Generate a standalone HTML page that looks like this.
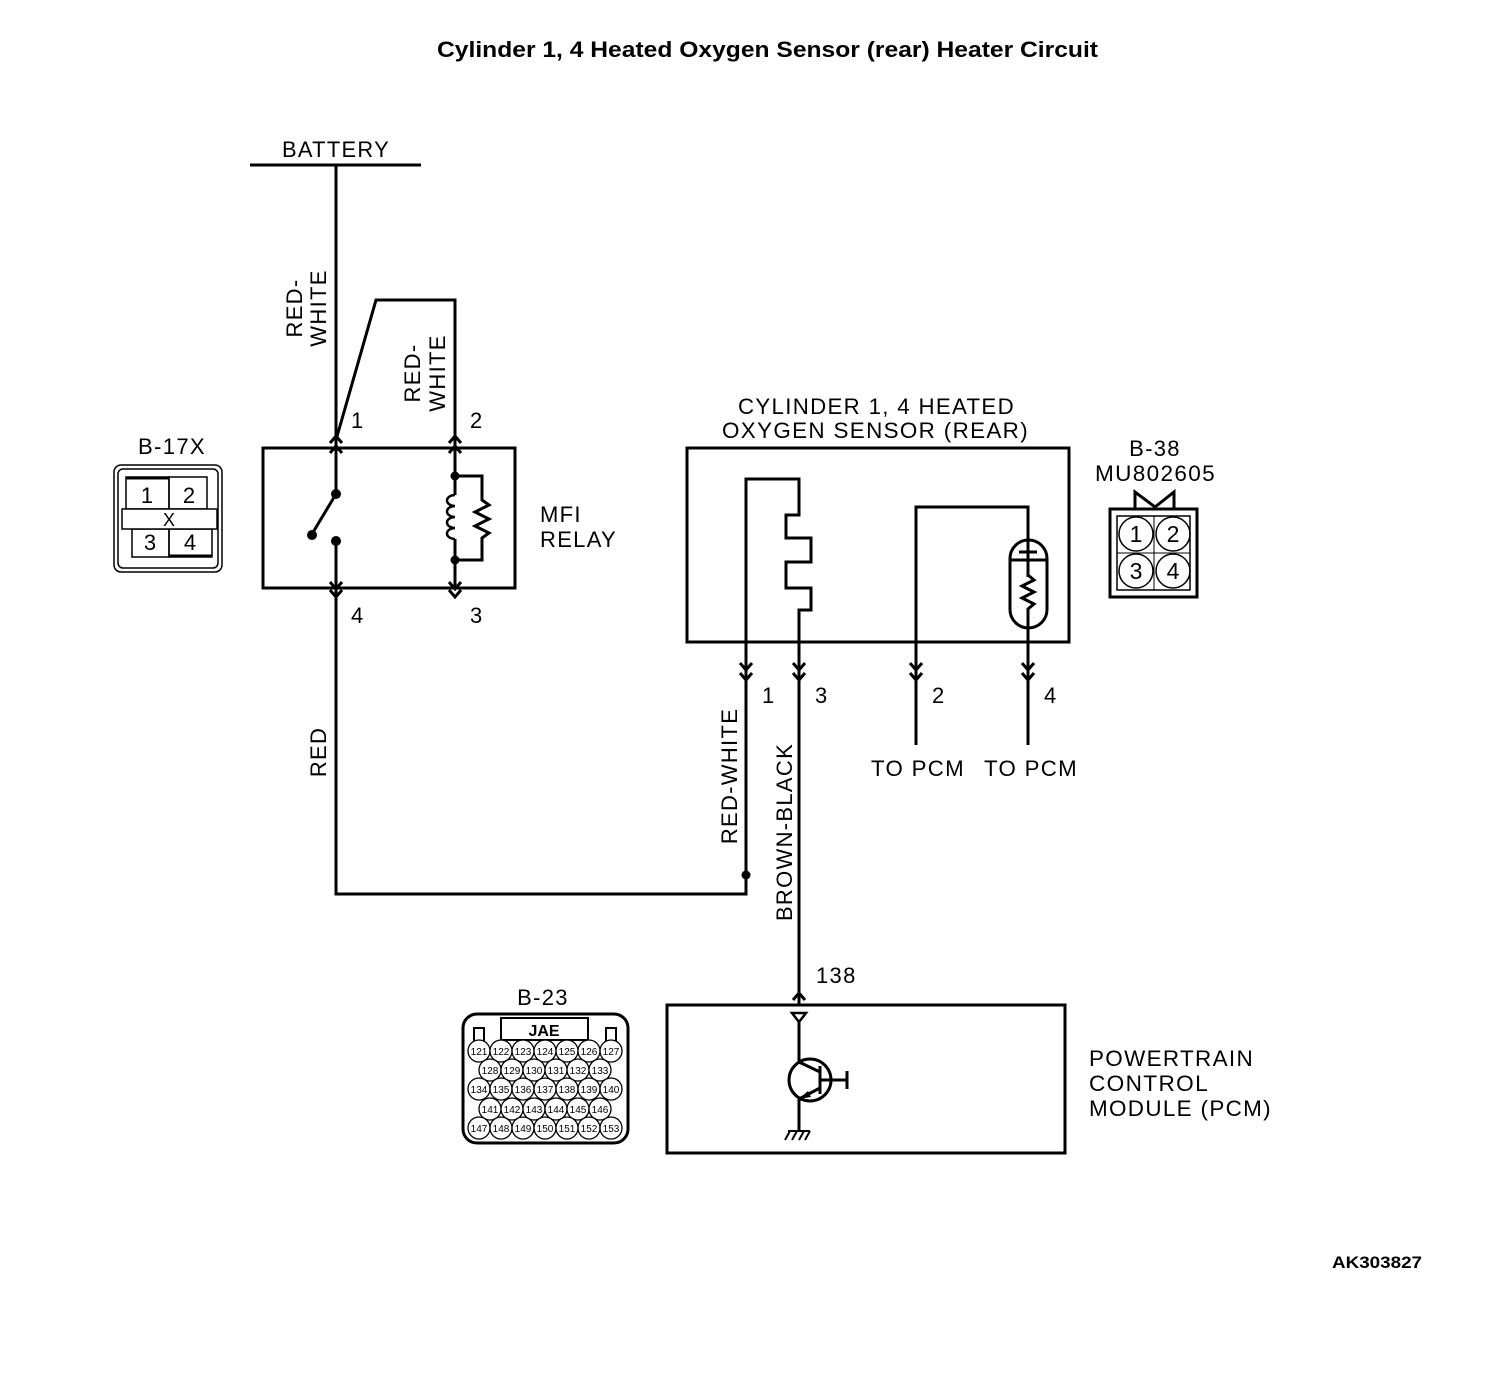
<!DOCTYPE html>
<html><head><meta charset="utf-8"><style>
html,body{margin:0;padding:0;background:#fff;}
svg{display:block;}
text{font-family:"Liberation Sans",Arial,sans-serif;fill:#000;}
</style></head><body>
<svg width="1504" height="1382" viewBox="0 0 1504 1382" xmlns="http://www.w3.org/2000/svg">
<g fill="none" stroke="#000" stroke-width="3">
<line x1="250" y1="165" x2="421" y2="165"/>
<line x1="336" y1="165" x2="336" y2="588"/>
<polyline points="336,440 376,300 455,300 455,588"/>
<rect x="263" y="448" width="252" height="140"/>
<polyline points="330,443 336,436 342,443"/>
<polyline points="330,453 336,446 342,453"/>
<polyline points="449,443 455,436 461,443"/>
<polyline points="449,453 455,446 461,453"/>
<polyline points="330,590 336,597 342,590"/>
<polyline points="330,582 336,589 342,582"/>
<polyline points="449,590 455,597 461,590"/>
<polyline points="449,582 455,589 461,582"/>
</g>
<rect x="333" y="496" width="6" height="44" fill="#fff"/>
<g fill="none" stroke="#000" stroke-width="3">
<line x1="336" y1="494" x2="312" y2="534"/>
<rect x="452" y="478" width="6" height="80" fill="#fff" stroke="none"/>
<polyline points="455,476 482,476 482,500 489,505 475,512 489,519 475,526 489,533 482,538 482,560 455,560"/>
<line x1="455" y1="476" x2="455" y2="495"/>
<line x1="455" y1="539" x2="455" y2="560"/>
<path d="M455,495 a8,5.5 0 1 0 0,11 a8,5.5 0 1 0 0,11 a8,5.5 0 1 0 0,11 a8,5.5 0 1 0 0,11" stroke-width="2.5"/>
</g>
<g fill="#000">
<circle cx="336" cy="494" r="5"/><circle cx="312" cy="535" r="5"/><circle cx="336" cy="541" r="5"/>
<circle cx="455" cy="476" r="4.5"/><circle cx="455" cy="560" r="4.5"/>
<circle cx="746" cy="875" r="4.5"/>
</g>
<g fill="none" stroke="#000" stroke-width="3">
<polyline points="336,588 336,894 746,894 746,479 799,479 799,515 786,515 786,538 811,538 811,562 786,562 786,588 811,588 811,610 799,610 799,1005"/>
<rect x="687" y="448" width="382" height="194"/>
<polyline points="916,745 916,507 1028,507 1028,745"/>
<rect x="1010" y="540" width="37" height="88" rx="18.5" fill="#fff"/>
<line x1="1028" y1="540" x2="1028" y2="577"/>
<line x1="1019" y1="552" x2="1037" y2="552"/>
<line x1="1010" y1="560" x2="1047" y2="560"/>
<polyline points="1028,575 1034,580 1022,586 1034,592 1022,598 1034,604 1028,609 1028,628"/>
<polyline points="740,663 746,670 752,663"/><polyline points="740,673 746,680 752,673"/>
<polyline points="793,663 799,670 805,663"/><polyline points="793,673 799,680 805,673"/>
<polyline points="910,663 916,670 922,663"/><polyline points="910,673 916,680 922,673"/>
<polyline points="1022,663 1028,670 1034,663"/><polyline points="1022,673 1028,680 1034,673"/>
<polyline points="793,1000 799,993 805,1000"/>
<rect x="667" y="1005" width="398" height="148"/>
<polygon points="792,1013 806,1013 799,1022" stroke-width="2.5"/>
<line x1="799" y1="1022" x2="799" y2="1062"/>
<circle cx="810" cy="1080" r="21"/>
<polyline points="799,1062 820,1072"/>
<line x1="820" y1="1066" x2="820" y2="1094"/>
<line x1="820" y1="1080" x2="846" y2="1080"/>
<line x1="847" y1="1071" x2="847" y2="1089"/>
<line x1="820" y1="1088" x2="799" y2="1099"/>
<line x1="799" y1="1099" x2="799" y2="1130"/>
<line x1="788" y1="1131" x2="810" y2="1131" stroke-width="2"/>
<g stroke-width="2"><line x1="790" y1="1131" x2="785" y2="1140"/><line x1="797" y1="1131" x2="792" y2="1140"/><line x1="804" y1="1131" x2="799" y2="1140"/><line x1="810" y1="1131" x2="805" y2="1140"/></g>
</g>
<polygon points="799,1099 808,1091 811,1097" fill="#000"/>
<g fill="none" stroke="#000" stroke-width="1.5">
<rect x="114" y="465" width="108" height="107" rx="7"/>
<rect x="118" y="469" width="100" height="99" rx="5"/>
<rect x="126" y="477" width="43" height="32"/>
<rect x="169" y="477" width="38" height="32"/>
<rect x="132" y="529" width="37" height="28"/>
<rect x="169" y="529" width="43" height="28"/>
<rect x="122" y="509" width="95" height="20" fill="#fff"/>
</g>
<line x1="126" y1="478" x2="169" y2="478" stroke="#000" stroke-width="3"/>
<line x1="169" y1="556" x2="212" y2="556" stroke="#000" stroke-width="3"/>
<g font-size="22" text-anchor="middle">
<text x="147" y="503">1</text><text x="189" y="503">2</text>
<text x="150" y="550">3</text><text x="190" y="550">4</text>
<text x="169" y="526" font-size="18">X</text>
</g>
<g fill="none" stroke="#000">
<rect x="1110" y="509" width="87" height="88" stroke-width="3"/>
<polyline points="1135,509 1135,492 1155,507 1174,492 1174,509" stroke-width="3"/>
<rect x="1117" y="516" width="73" height="74" stroke-width="1.5"/>
<line x1="1154" y1="516" x2="1154" y2="590" stroke-width="1"/>
<line x1="1117" y1="553" x2="1190" y2="553" stroke-width="1"/>
<circle cx="1136" cy="534" r="17" stroke-width="1.5"/><circle cx="1173" cy="534" r="17" stroke-width="1.5"/>
<circle cx="1136" cy="571" r="17" stroke-width="1.5"/><circle cx="1173" cy="571" r="17" stroke-width="1.5"/>
</g>
<g font-size="23" text-anchor="middle">
<text x="1136" y="542">1</text><text x="1173" y="542">2</text>
<text x="1136" y="579">3</text><text x="1173" y="579">4</text>
</g>
<g fill="none" stroke="#000" stroke-width="2">
<rect x="463" y="1014" width="165" height="129" rx="14" stroke-width="3"/>
<rect x="501" y="1018" width="87" height="22"/>
<rect x="474" y="1028" width="10" height="14"/>
<rect x="606" y="1028" width="10" height="14"/>
</g>
<g fill="#fff" stroke="#000" stroke-width="1.3">
<circle cx="479" cy="1051" r="11"/><circle cx="501" cy="1051" r="11"/><circle cx="523" cy="1051" r="11"/><circle cx="545" cy="1051" r="11"/><circle cx="567" cy="1051" r="11"/><circle cx="589" cy="1051" r="11"/><circle cx="611" cy="1051" r="11"/>
<circle cx="490" cy="1070" r="11"/><circle cx="512" cy="1070" r="11"/><circle cx="534" cy="1070" r="11"/><circle cx="556" cy="1070" r="11"/><circle cx="578" cy="1070" r="11"/><circle cx="600" cy="1070" r="11"/>
<circle cx="479" cy="1089" r="11"/><circle cx="501" cy="1089" r="11"/><circle cx="523" cy="1089" r="11"/><circle cx="545" cy="1089" r="11"/><circle cx="567" cy="1089" r="11"/><circle cx="589" cy="1089" r="11"/><circle cx="611" cy="1089" r="11"/>
<circle cx="490" cy="1109" r="11"/><circle cx="512" cy="1109" r="11"/><circle cx="534" cy="1109" r="11"/><circle cx="556" cy="1109" r="11"/><circle cx="578" cy="1109" r="11"/><circle cx="600" cy="1109" r="11"/>
<circle cx="479" cy="1128" r="11"/><circle cx="501" cy="1128" r="11"/><circle cx="523" cy="1128" r="11"/><circle cx="545" cy="1128" r="11"/><circle cx="567" cy="1128" r="11"/><circle cx="589" cy="1128" r="11"/><circle cx="611" cy="1128" r="11"/>
</g>
<g font-size="10" text-anchor="middle">
<text x="479" y="1055">121</text><text x="501" y="1055">122</text><text x="523" y="1055">123</text><text x="545" y="1055">124</text><text x="567" y="1055">125</text><text x="589" y="1055">126</text><text x="611" y="1055">127</text>
<text x="490" y="1074">128</text><text x="512" y="1074">129</text><text x="534" y="1074">130</text><text x="556" y="1074">131</text><text x="578" y="1074">132</text><text x="600" y="1074">133</text>
<text x="479" y="1093">134</text><text x="501" y="1093">135</text><text x="523" y="1093">136</text><text x="545" y="1093">137</text><text x="567" y="1093">138</text><text x="589" y="1093">139</text><text x="611" y="1093">140</text>
<text x="490" y="1113">141</text><text x="512" y="1113">142</text><text x="534" y="1113">143</text><text x="556" y="1113">144</text><text x="578" y="1113">145</text><text x="600" y="1113">146</text>
<text x="479" y="1132">147</text><text x="501" y="1132">148</text><text x="523" y="1132">149</text><text x="545" y="1132">150</text><text x="567" y="1132">151</text><text x="589" y="1132">152</text><text x="611" y="1132">153</text>
</g>
<text x="544" y="1036" font-size="16" font-weight="bold" text-anchor="middle" font-family="Liberation Serif">JAE</text>
<text x="437" y="57" font-size="22" font-weight="bold" textLength="661" lengthAdjust="spacingAndGlyphs">Cylinder 1, 4 Heated Oxygen Sensor (rear) Heater Circuit</text>
<g font-size="22" letter-spacing="1.3">
<text x="282" y="157" textLength="108" lengthAdjust="spacingAndGlyphs">BATTERY</text>
<text x="351" y="428">1</text><text x="470" y="428">2</text>
<text x="351" y="623">4</text><text x="470" y="623">3</text>
<text x="540" y="522">MFI</text><text x="540" y="547">RELAY</text>
<text x="138" y="454" textLength="68" lengthAdjust="spacingAndGlyphs">B-17X</text>
<text x="738" y="414" textLength="277" lengthAdjust="spacingAndGlyphs">CYLINDER 1, 4 HEATED</text>
<text x="722" y="438" textLength="307" lengthAdjust="spacingAndGlyphs">OXYGEN SENSOR (REAR)</text>
<text x="1155" y="456" text-anchor="middle">B-38</text>
<text x="1095" y="481" textLength="121" lengthAdjust="spacingAndGlyphs">MU802605</text>
<text x="762" y="703">1</text><text x="815" y="703">3</text><text x="932" y="703">2</text><text x="1044" y="703">4</text>
<text x="871" y="776" textLength="94" lengthAdjust="spacingAndGlyphs">TO PCM</text>
<text x="984" y="776" textLength="94" lengthAdjust="spacingAndGlyphs">TO PCM</text>
<text x="816" y="983">138</text>
<text x="543" y="1005" text-anchor="middle">B-23</text>
<text x="1089" y="1066" textLength="165" lengthAdjust="spacingAndGlyphs">POWERTRAIN</text>
<text x="1089" y="1091" textLength="120" lengthAdjust="spacingAndGlyphs">CONTROL</text>
<text x="1089" y="1116" textLength="183" lengthAdjust="spacingAndGlyphs">MODULE (PCM)</text>
<text transform="translate(302,308) rotate(-90)" text-anchor="middle">RED-</text>
<text transform="translate(326,308) rotate(-90)" text-anchor="middle">WHITE</text>
<text transform="translate(420,373) rotate(-90)" text-anchor="middle">RED-</text>
<text transform="translate(445,373) rotate(-90)" text-anchor="middle">WHITE</text>
<text transform="translate(326,752) rotate(-90)" text-anchor="middle">RED</text>
<text transform="translate(737,776) rotate(-90)" text-anchor="middle">RED-WHITE</text>
<text transform="translate(792,832) rotate(-90)" text-anchor="middle">BROWN-BLACK</text>
</g>
<text x="1332" y="1268" font-size="17" font-weight="bold" textLength="90" lengthAdjust="spacingAndGlyphs">AK303827</text>
</svg>
</body></html>
